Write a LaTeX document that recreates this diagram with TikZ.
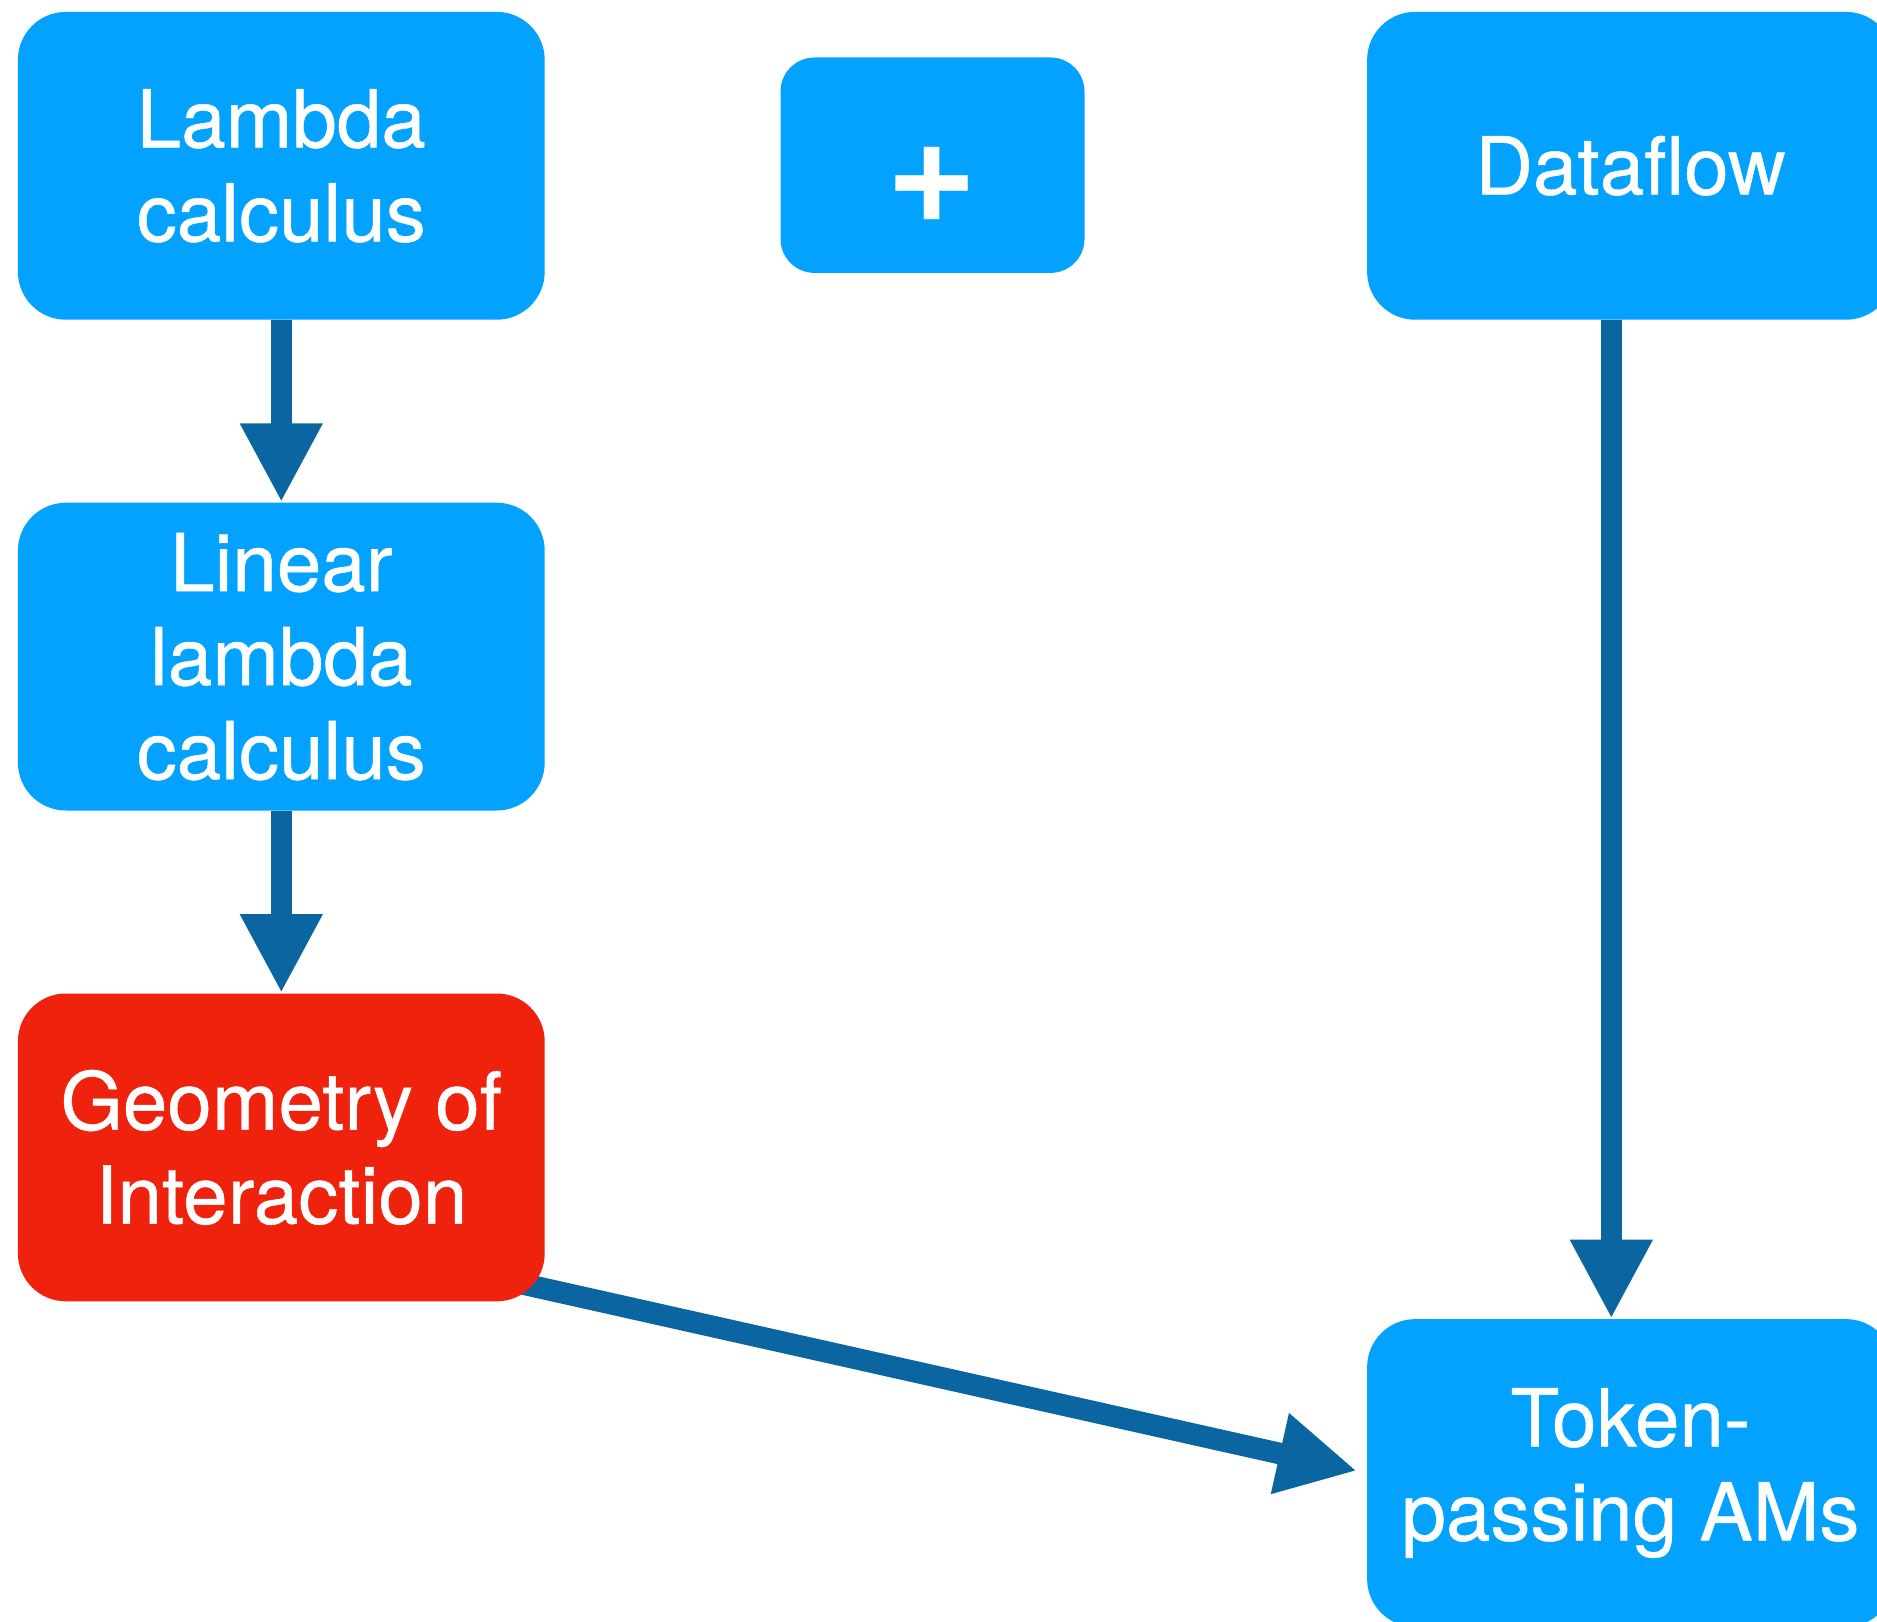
\documentclass[tikz,border=0pt]{standalone}
\usepackage{fontspec}
\setmainfont{TeX Gyre Heros}
\newfontfamily\cardfont{TeX Gyre Heros}[FakeBold=0.6]
\usetikzlibrary{arrows.meta,calc}

\definecolor{boxblue}{RGB}{3,162,254}
\definecolor{linkblue}{RGB}{10,101,161}
\definecolor{goired}{RGB}{238,34,13}

\pgfdeclarelayer{paper}
\pgfdeclarelayer{links}
\pgfsetlayers{paper,links,main}

\tikzset{
  card/.style={rectangle, rounded corners=24pt, fill=boxblue, draw=none,
    minimum width=263.4pt, minimum height=153.9pt, inner sep=0pt,
    align=center, text=white, font=\cardfont\fontsize{40pt}{47pt}\selectfont},
  redcard/.style={card, fill=goired},
  pluscard/.style={card, rounded corners=17pt,
    minimum width=152pt, minimum height=107.7pt,
    font=\bfseries\fontsize{78pt}{78pt}\selectfont},
  link/.style={draw=linkblue, line width=10.8pt,
    -{Triangle[width=38.5pt,length=39.5pt]}, color=linkblue}
}

\begin{document}
\begin{tikzpicture}[x=0.5pt, y=-0.5pt]
  % page area
  \begin{pgfonlayer}{paper}
    \fill[white] (0,0) rectangle (1877,1621);
  \end{pgfonlayer}
  \useasboundingbox (0,0) rectangle (1877,1621);

  % boxes
  \node[card]     (lam)  at (281.3,165.8)  {Lambda\\calculus};
  \node[pluscard] (plus) at (932.5,165.2)  {\raisebox{-10pt}[\height][\depth]{+}};
  \node[card]     (df)   at (1630.5,165.8) {Dataflow};
  \node[card]     (lin)  at (281.3,656.6)  {Linear\\lambda\\calculus};
  \node[redcard]  (goi)  at (281.3,1147.4) {Geometry of\\Interaction};
  \node[card]     (tok)  at (1630.5,1473)  {Token-\\passing AMs};

  % connector anchor points
  \coordinate (rx) at (1611.3,0);
  \coordinate (goiout) at ($(goi.south east)+(-64.6,-27.3)$);

  % connectors, kept beneath the boxes
  \begin{pgfonlayer}{links}
    \draw[link] (lam.south) -- (lin.north);
    \draw[link] (lin.south) -- (goi.north);
    \draw[link] (df.south -| rx) -- (tok.north -| rx);
    \draw[link, shorten >=5pt] (goiout) -- (tok.west);
  \end{pgfonlayer}
\end{tikzpicture}
\end{document}
